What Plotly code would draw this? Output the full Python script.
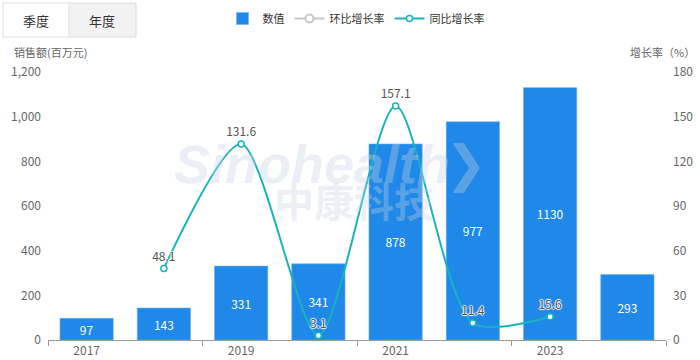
import plotly.graph_objects as go

years = ["2017", "2018", "2019", "2020", "2021", "2022", "2023", "2024"]
sales = [97, 143, 331, 341, 878, 977, 1130, 293]
yoy = [None, 48.1, 131.6, 3.1, 157.1, 11.4, 15.6, None]
mom = []
left_ticks = [0, 200, 400, 600, 800, 1000, 1200]
right_ticks = [0, 30, 60, 90, 120, 150, 180]

W, H = 700, 360
L, R, T, B = 48, 34, 72, 20
PW, PH = W - L - R, H - T - B

def px(x):
    return (x - L) / PW

def py(y):
    return 1 - (y - T) / PH

idx = list(range(len(years)))
FONT = "Noto Sans CJK SC, Microsoft YaHei, sans-serif"
BLUE = "#2088e8"
TEAL = "#16b5c0"
WM = "rgba(200,210,226,0.36)"

fig = go.Figure()
fig.add_trace(go.Bar(
    x=idx, y=sales, name="数值", marker=dict(color=BLUE, line=dict(color="#6fb0f0", width=0.6)),
    text=[str(v) for v in sales], textposition="inside", insidetextanchor="middle",
    textangle=0, constraintext="none",
    textfont=dict(color="white", size=12, family=FONT), width=0.69,
    cliponaxis=False,
))
fig.add_trace(go.Scatter(
    x=[None], y=[None], name="环比增长率", mode="lines+markers", yaxis="y2",
    line=dict(color="#c8c8c8", width=2), marker=dict(size=8, color="white", line=dict(color="#c8c8c8", width=2)),
))
fig.add_trace(go.Scatter(
    x=idx, y=yoy, name="同比增长率", mode="lines+markers+text", yaxis="y2",
    line=dict(color=TEAL, width=2, shape="spline", smoothing=0.75),
    marker=dict(size=6, color="white", line=dict(color=TEAL, width=1.5)),
    text=[("" if v is None else f"{v:.1f}") for v in yoy], textposition="top center",
    textfont=dict(color="#555555", size=12, family=FONT,
                  shadow="1px 0 1px #fff, -1px 0 1px #fff, 0 1px 1px #fff, 0 -1px 1px #fff"),
    cliponaxis=False,
))
# boundary tick helper axis
fig.add_trace(go.Scatter(x=[None], y=[None], xaxis="x2", showlegend=False, hoverinfo="skip"))

fig.update_layout(
    width=W, height=H, margin=dict(l=L, r=R, t=T, b=B, autoexpand=False),
    plot_bgcolor="white", paper_bgcolor="white",
    font=dict(family=FONT, size=12, color="#666666"),
    showlegend=True,
    legend=dict(orientation="h", x=px(356), xanchor="center", y=py(4), yanchor="top",
                font=dict(size=11, color="#333333"), itemwidth=30, tracegroupgap=0,
                bgcolor="rgba(0,0,0,0)"),
    bargap=0.31,
    xaxis=dict(range=[-0.5, len(years) - 0.5], tickvals=idx[::2], ticktext=years[::2],
               showgrid=False, zeroline=False, showline=True, linecolor="#999999", linewidth=1,
               ticks="", tickfont=dict(size=12, color="#666666"), fixedrange=True),
    xaxis2=dict(range=[-0.5, len(years) - 0.5], overlaying="x", anchor="y",
                tickvals=[i - 0.5 for i in idx[::2]] + [len(years) - 0.5],
                ticks="outside", ticklen=5, tickcolor="#999999", showticklabels=False,
                showgrid=False, zeroline=False, showline=False),
    yaxis=dict(range=[0, 1200], tickvals=left_ticks, ticktext=[f"{v:,}" for v in left_ticks],
               showgrid=False, zeroline=False, showline=False, ticks="", ticklabelstandoff=6,
               tickfont=dict(size=12, color="#666666")),
    yaxis2=dict(range=[0, 180], tickvals=right_ticks, overlaying="y", side="right",
                showgrid=False, zeroline=False, showline=False, ticks="", ticklabelstandoff=6,
                tickfont=dict(size=12, color="#666666")),
)

def note(x, y, text, size, color, family=FONT, xanchor="center"):
    fig.add_annotation(xref="paper", yref="paper", x=px(x), y=py(y), xanchor=xanchor, yanchor="middle",
                       text=text, showarrow=False, font=dict(size=size, color=color, family=family))

# watermark
note(312, 164, "<b><i>Sinohealth</i></b>", 54, WM, "Liberation Sans, Arial")
note(466, 164, "<b>❯</b>", 50, WM, "DejaVu Sans")
note(354, 200, "<b>中康科技</b>", 40, WM)

# axis titles
note(12, 52, "销售额(百万元)", 11, "#666666", xanchor="left")
note(697, 52, "增长率（%）", 11, "#666666", xanchor="right")

# button group
fig.add_shape(type="rect", xref="paper", yref="paper", x0=px(69), x1=px(136), y0=py(37), y1=py(3),
              fillcolor="#f2f2f2", line=dict(width=0), layer="below")
fig.add_shape(type="rect", xref="paper", yref="paper", x0=px(3), x1=px(136), y0=py(37), y1=py(3),
              fillcolor="rgba(0,0,0,0)", line=dict(color="#dcdcdc", width=1))
fig.add_shape(type="line", xref="paper", yref="paper", x0=px(69), x1=px(69), y0=py(37), y1=py(3),
              line=dict(color="#dcdcdc", width=1))
note(36, 20, "季度", 13, "#333333")
note(102, 20, "年度", 13, "#333333")

fig.write_html("out.html", config={"displayModeBar": False},
               post_script="document.body.style.margin='0px';")
